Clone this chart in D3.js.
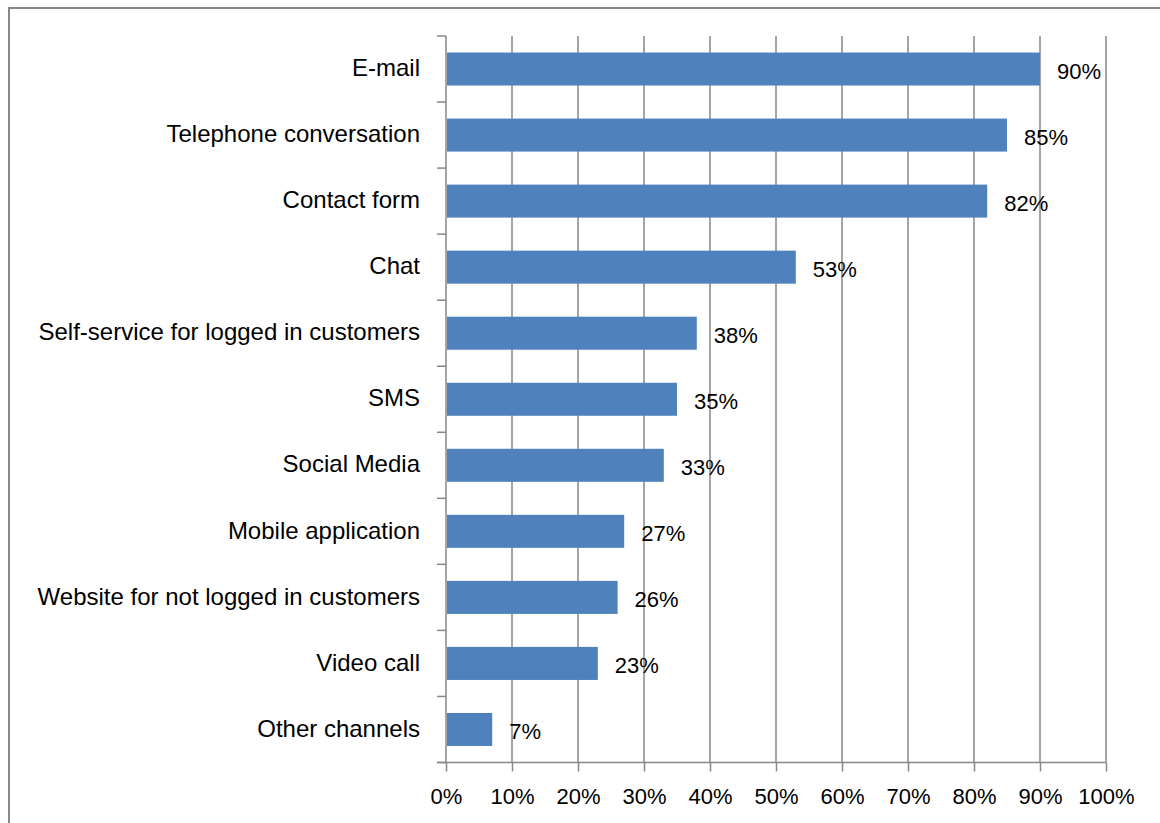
<!DOCTYPE html>
<html>
<head>
<meta charset="utf-8">
<script src="https://cdn.jsdelivr.net/npm/d3@7"></script>
<style>
html,body{margin:0;padding:0;background:#fff;}
svg{display:block;}
text{font-family:"Liberation Sans",Arial,sans-serif;fill:#000;}
</style>
</head>
<body>
<svg id="chart" width="1160" height="823"></svg>
<script>
const categories = ["E-mail","Telephone conversation","Contact form","Chat","Self-service for logged in customers","SMS","Social Media","Mobile application","Website for not logged in customers","Video call","Other channels"];
const values = [90,85,82,53,38,35,33,27,26,23,7];
const xTicks = [0,10,20,30,40,50,60,70,80,90,100];

(function(){
const svg = d3.select("#chart");
const W = 1160, H = 823;
const pLeft = 446, pRight = 1106, pTop = 36, pBottom = 762.5;
const fontSize = 22;
const catFontSize = 24;
const gridColor = "#878787";

// outer border (left and top)
svg.append("path")
  .attr("d", `M9,${H} L9,8 L${W},8`)
  .attr("fill","none").attr("stroke","#888").attr("stroke-width",2);

const x = d3.scaleLinear().domain([0,100]).range([pLeft,pRight]);
const y = d3.scaleBand().domain(categories).range([pTop,pBottom]).paddingInner(0.5).paddingOuter(0.25);
const yb = d3.scaleBand().domain(categories).range([pTop,pBottom]);

// gridlines
svg.append("g").selectAll("line").data(xTicks.slice(1)).join("line")
  .attr("x1", d=>x(d)).attr("x2", d=>x(d))
  .attr("y1", pTop).attr("y2", pBottom)
  .attr("stroke", gridColor).attr("stroke-width",1.5);

// x axis
const xAxis = d3.axisBottom(x).tickValues(xTicks).tickFormat(d=>d+"%").tickSize(9).tickPadding(14).tickSizeOuter(0);
const gx = svg.append("g").attr("transform",`translate(0,${pBottom})`).call(xAxis);
gx.select(".domain").remove();
gx.selectAll(".tick line").attr("stroke",gridColor).attr("stroke-width",1.5);
gx.selectAll(".tick text").attr("font-size",fontSize).attr("font-family","Liberation Sans, Arial, sans-serif").attr("fill","#000").attr("dy","0.85em");
svg.append("line").attr("x1",pLeft-9).attr("x2",pRight).attr("y1",pBottom).attr("y2",pBottom)
  .attr("stroke",gridColor).attr("stroke-width",1.5);

// y axis line and band ticks
svg.append("line").attr("x1",pLeft).attr("x2",pLeft).attr("y1",pTop).attr("y2",pBottom)
  .attr("stroke",gridColor).attr("stroke-width",1.5);
const boundaries = categories.map(c=>yb(c)).concat([pBottom]);
svg.append("g").selectAll("line").data(boundaries).join("line")
  .attr("x1",pLeft-9).attr("x2",pLeft).attr("y1",d=>d).attr("y2",d=>d)
  .attr("stroke",gridColor).attr("stroke-width",1.5);

// category labels
svg.append("g").selectAll("text").data(categories).join("text")
  .attr("x", pLeft-26).attr("y", d=>yb(d)+yb.bandwidth()/2)
  .attr("dy","0.3em").attr("text-anchor","end").attr("font-size",catFontSize)
  .text(d=>d);

// bars
const data = categories.map((c,i)=>({c, v:values[i]}));
svg.append("g").selectAll("rect").data(data).join("rect")
  .attr("x", x(0)+1).attr("y", d=>y(d.c))
  .attr("width", d=>x(d.v)-x(0)-1).attr("height", y.bandwidth())
  .attr("fill","#4F81BD");

// value labels
svg.append("g").selectAll("text").data(data).join("text")
  .attr("x", d=>x(d.v)+17).attr("y", d=>y(d.c)+y.bandwidth()/2+10)
  .attr("font-size",fontSize)
  .text(d=>d.v+"%");
})();
</script>
</body>
</html>
